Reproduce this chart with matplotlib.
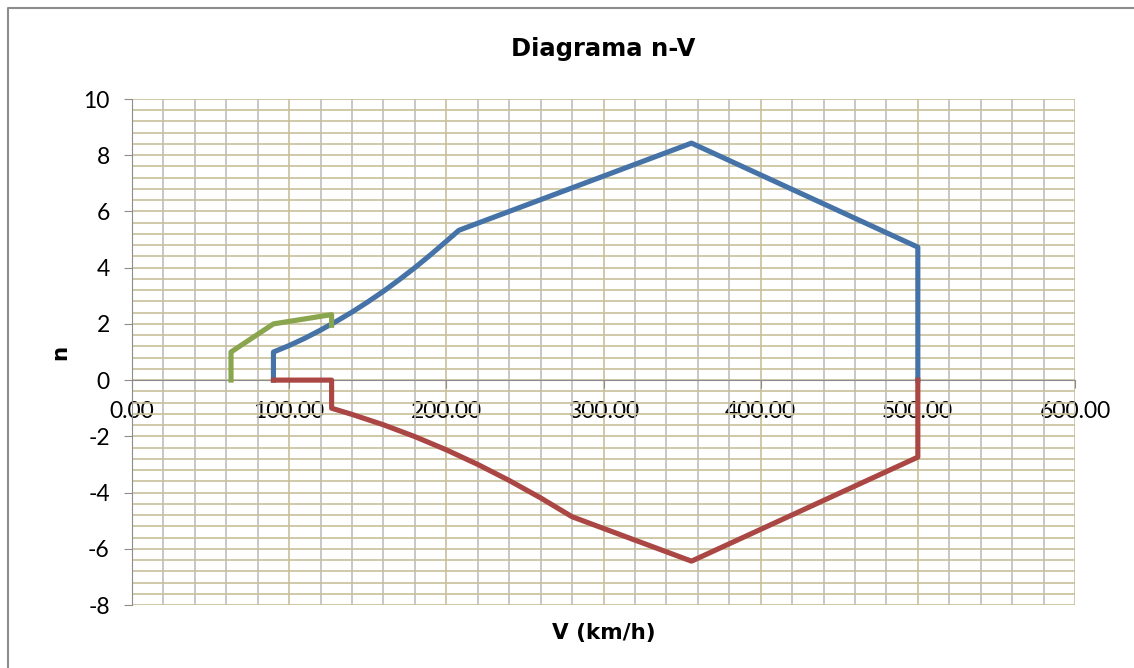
import matplotlib.pyplot as plt
from matplotlib.ticker import MultipleLocator, FormatStrFormatter
from matplotlib.lines import Line2D

# envelope branches (V in km/h, load factor n)
v_pos = [90, 90, 100, 110, 120, 130, 140, 150, 160, 170, 180, 190, 200, 208, 356, 500, 500]
n_pos = [0, 1.0, 1.23, 1.49, 1.78, 2.09, 2.42, 2.78, 3.16, 3.57, 4.0, 4.46, 4.94, 5.33, 8.43, 4.73, 0]

v_neg = [90, 127, 127, 140, 160, 180, 200, 220, 240, 260, 280, 356, 500, 500]
n_neg = [0, 0, -1.0, -1.22, -1.59, -2.01, -2.48, -3.0, -3.57, -4.19, -4.86, -6.44, -2.74, 0]

v_flap = [63, 63, 90, 127, 127]
n_flap = [0, 1.0, 2.0, 2.33, 1.95]

plt.rcParams['font.family'] = ['Lato', 'DejaVu Sans']
plt.rcParams['axes.unicode_minus'] = False

fig = plt.figure(figsize=(11.34, 6.68), dpi=100)
ax = fig.add_axes([132/1134, 1-605/668, (1075-132)/1134, (605-99)/668])

tan = '#C8C09A'
grey = '#BEBEBE'

ax.plot(v_pos, n_pos, color='#4572A7', lw=3.7, solid_joinstyle='round', zorder=3)
ax.plot(v_neg, n_neg, color='#AA4643', lw=3.7, solid_joinstyle='round', zorder=3)
ax.plot(v_flap, n_flap, color='#89A54E', lw=3.7, solid_joinstyle='round', zorder=3)

ax.set_xlim(0, 600)
ax.set_ylim(-8, 10)
ax.xaxis.set_major_locator(MultipleLocator(100))
ax.xaxis.set_minor_locator(MultipleLocator(20))
ax.yaxis.set_major_locator(MultipleLocator(2))
ax.yaxis.set_minor_locator(MultipleLocator(0.4))
ax.xaxis.set_major_formatter(FormatStrFormatter('%.2f'))

ax.set_axisbelow(True)
ax.grid(True, which='major', axis='x', color=tan, lw=1.2)
ax.grid(True, which='minor', axis='x', color=grey, lw=1.2)
ax.grid(True, which='both', axis='y', color=tan, lw=1.2)

for s in ['top', 'right']:
    ax.spines[s].set_visible(False)
ax.spines['bottom'].set_position(('data', 0))
ax.spines['bottom'].set_color('#8C8C8C')
ax.spines['left'].set_color('#8C8C8C')
ax.tick_params(axis='both', which='major', colors='#8C8C8C', labelcolor='black',
               length=6, labelsize=16.5)
ax.tick_params(axis='both', which='minor', length=0)
ax.tick_params(axis='x', pad=9)
ax.tick_params(axis='y', pad=10)

bold = ['DejaVu Sans']
ax.set_title('Diagrama n-V', fontsize=17.5, fontweight='bold', family=bold, pad=31)
ax.set_xlabel('V (km/h)', fontsize=15.5, fontweight='bold', family=bold)
ax.xaxis.set_label_coords(0.5, -0.035)
ax.set_ylabel('n', fontsize=15.5, fontweight='bold', family=bold)
ax.yaxis.set_label_coords(-0.066, 0.5)

# chart frame (only left and top edges show)
x0, y1 = 8/1134, 1-8/668
fig.add_artist(Line2D([x0, x0, 1], [0, y1, y1], transform=fig.transFigure,
                      color='#8C8C8C', lw=1.5))

fig.savefig('out.png', dpi=100)
